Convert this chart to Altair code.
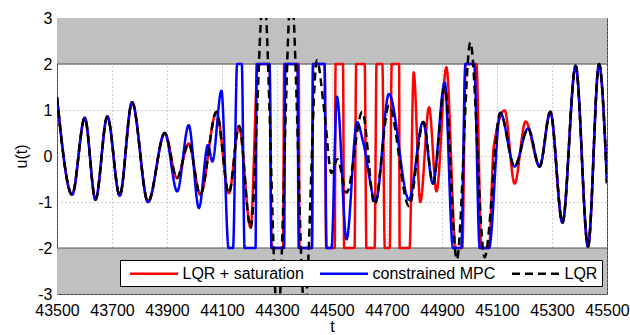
import altair as alt
import pandas as pd

series_names = ["LQR + saturation", "constrained MPC", "LQR"]
series_colors = ["#ff0000", "#0000ff", "#000000"]
series_dashes = [[1, 0], [1, 0], [8, 5]]

x_ticks = list(range(43500, 45501, 200))
y_ticks = [-3, -2, -1, 0, 1, 2, 3]

# shared beginning of all three signals
common_t = [43500, 43555, 43601, 43640, 43683, 43728, 43773, 43831, 43892]
common_u = [1.28, -0.84, 0.83, -0.95, 0.86, -0.86, 1.17, -1.00, 0.50]

# LQR + saturation (red)
red_t = common_t + [43936, 43979, 44021, 44080, 44125, 44162, 44204, 44231, 44273, 44280,
                    44322, 44326, 44379, 44382, 44427, 44431, 44473, 44479, 44510, 44513,
                    44540, 44544, 44582, 44588, 44619, 44625, 44655, 44662, 44683, 44692,
                    44710, 44717, 44744, 44746, 44782, 44797, 44821, 44853, 44880, 44916,
                    44950, 44974, 44986, 45025, 45043, 45071, 45088, 45128, 45164, 45204,
                    45255, 45294, 45338, 45386, 45431, 45471, 45500]
red_u = common_u + [-0.48, 0.27, -0.84, 0.96, -0.81, 0.65, -1.56, 2.0, 2.0, -2.0,
                    -2.0, 2.0, 2.0, -2.0, -2.0, 2.0, 2.0, -2.0, -2.0, 2.0,
                    2.0, -2.0, -2.0, 2.0, 2.0, -2.0, -2.0, 2.0, 2.0, -2.0,
                    -2.0, 2.0, 2.0, -2.0, -2.0, 1.82, -1.00, 1.06, -0.77, 1.93,
                    -2.0, -2.0, 2.0, 2.0, -2.0, -2.0, 0.20, 0.99, -0.60, 0.75,
                    -0.23, 0.96, -1.45, 1.96, -1.97, 2.0, -0.59]

# constrained MPC (blue)
blue_t = common_t + [43937, 43979, 44016, 44049, 44065, 44098, 44124, 44140, 44155, 44172,
                     44182, 44222, 44226, 44273, 44280, 44326, 44330, 44374, 44379, 44427,
                     44431, 44473, 44480, 44498, 44518, 44553, 44591, 44613, 44659, 44707,
                     44780, 44831, 44867, 44910, 44940, 44970, 44985, 45017, 45037, 45071,
                     45112, 45164, 45213, 45255, 45294, 45338, 45386, 45431, 45471, 45500]
blue_u = common_u + [-0.77, 0.67, -1.13, 0.24, -0.12, 1.42, -2.0, -2.0, 2.0, 2.0,
                     -2.0, -2.0, 2.0, 2.0, -2.0, -2.0, 2.0, 2.0, -2.0, -2.0,
                     2.0, 2.0, -2.0, -2.0, 1.29, -1.81, 0.74, 0.31, -0.99, 1.35,
                     -0.95, 0.74, -0.60, 1.60, -2.0, -2.0, 2.0, 2.0, -2.0, -2.0,
                     0.94, -0.23, 0.60, -0.23, 0.96, -1.45, 1.96, -1.97, 2.0, -0.59]

# unconstrained LQR (black dashed)
black_t = common_t + [43936, 43979, 44021, 44080, 44125, 44162, 44204, 44252, 44303, 44352,
                      44401, 44445, 44473, 44498, 44520, 44553, 44610, 44655, 44707, 44780,
                      44833, 44867, 44910, 44954, 45003, 45055, 45112, 45164, 45213, 45255,
                      45294, 45338, 45386, 45431, 45471, 45500]
black_u = common_u + [-0.48, 0.27, -0.84, 0.96, -0.81, 0.65, -1.56, 3.6, -3.6, 3.6,
                      -3.4, 2.08, 0.92, -0.37, -0.07, -0.80, 0.96, -1.06, 1.10, -1.09,
                      0.74, -0.60, 1.50, -2.25, 2.47, -2.2, 0.94, -0.23, 0.60, -0.23,
                      0.96, -1.45, 1.96, -1.97, 2.0, -0.59]

band_lo = [2, -3]
band_hi = [3, -2]
band_edges = [2, -2]

frames = []
for name, ts, us in [(series_names[0], red_t, red_u),
                     (series_names[1], blue_t, blue_u),
                     (series_names[2], black_t, black_u)]:
    frames.append(pd.DataFrame({"t": ts, "u": us, "series": name}))
df = pd.concat(frames, ignore_index=True)

bands = pd.DataFrame({"t0": [x_ticks[0]] * 2, "t1": [x_ticks[-1]] * 2, "lo": band_lo, "hi": band_hi})
edges = pd.DataFrame({"t0": [x_ticks[0]] * 2, "t1": [x_ticks[-1]] * 2, "y": band_edges})

font = "Liberation Sans"
xscale = alt.Scale(domain=[x_ticks[0], x_ticks[-1]], nice=False, zero=False)
yscale = alt.Scale(domain=[-3, 3], nice=False)

xaxis = alt.Axis(values=x_ticks, format="d", title="t", grid=True, labelPadding=8,
                 titlePadding=0, labelFlush=False)
yaxis = alt.Axis(values=y_ticks, title="u(t)", grid=True, labelPadding=5,
                 labelExpr="'' + datum.value", titlePadding=8)

legend = alt.Legend(title=None, orient="none", legendX=63, legendY=242, direction="horizontal",
                    fillColor="white", strokeColor="#000000", padding=4,
                    symbolType="M-3,0L3,0", symbolSize=256, symbolStrokeWidth=2.5,
                    symbolOffset=20.5, labelOffset=19,
                    labelFontSize=16, labelFont=font, columnPadding=10,
                    labelLimit=400)

color = alt.Color("series:N", scale=alt.Scale(domain=series_names, range=series_colors), legend=legend)
dash = alt.StrokeDash("series:N", scale=alt.Scale(domain=series_names, range=series_dashes), legend=legend)

band_layer = alt.Chart(bands).mark_rect(color="#c0c0c0", opacity=1).encode(
    x=alt.X("t0:Q", scale=xscale, axis=xaxis), x2="t1:Q",
    y=alt.Y("lo:Q", scale=yscale, axis=yaxis), y2="hi:Q")
edge_layer = alt.Chart(edges).mark_rule(color="#555555", strokeWidth=1.2).encode(
    x="t0:Q", x2="t1:Q", y="y:Q")

def line(name):
    return alt.Chart(df).transform_filter(alt.datum.series == name).mark_line(
        interpolate="monotone", strokeWidth=2.5, clip=True).encode(
        x=alt.X("t:Q", scale=xscale, axis=xaxis),
        y=alt.Y("u:Q", scale=yscale, axis=yaxis),
        color=color, strokeDash=dash)

chart = alt.layer(band_layer, edge_layer, line(series_names[0]), line(series_names[1]),
                  line(series_names[2])).properties(
    width=550, height=276, autosize=alt.AutoSizeParams(type="none"),
    padding={"left": 57, "top": 18, "right": 23, "bottom": 41}
).configure_view(stroke="#444444", strokeWidth=1).configure_axis(
    labelFont=font, labelFontSize=16, titleFont=font, titleFontSize=16,
    titleFontWeight="normal", labelColor="black", titleColor="black",
    gridColor="#999999", gridDash=[1, 3], gridWidth=1, domain=False, tickSize=0
)

chart.save("out.html", embed_options={"renderer": "svg", "actions": False})
